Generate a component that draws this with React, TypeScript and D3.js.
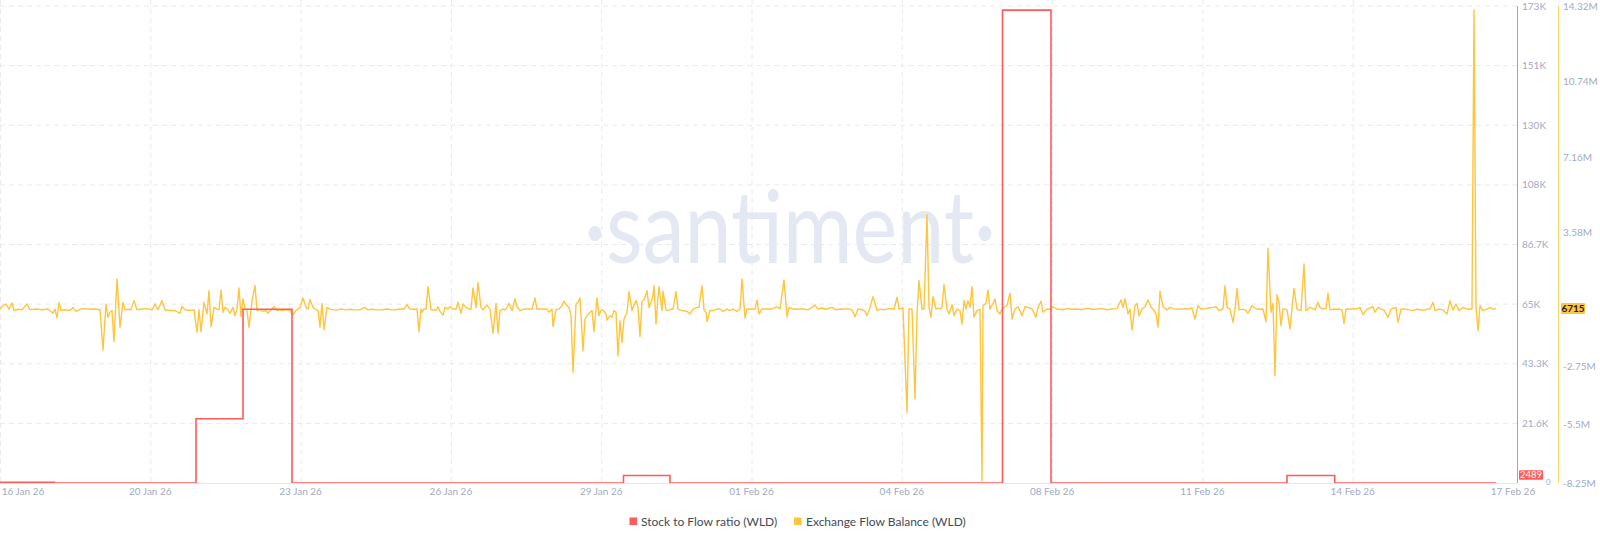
import React from "react";
import * as d3 from "d3";

// ---------- data ----------
// time in hours since chart start
const xTickHours = [0, 75.15, 150.3, 225.45, 300.6, 375.75, 450.9, 526.05, 601.2, 676.35, 756.5];
const xTickLabels = ["16 Jan 26", "20 Jan 26", "23 Jan 26", "26 Jan 26", "29 Jan 26", "01 Feb 26", "04 Feb 26", "08 Feb 26", "11 Feb 26", "14 Feb 26", "17 Feb 26"];

const redTickValues = [0, 21625, 43250, 64875, 86500, 108125, 129750, 151375, 173000];
const redTickLabels = ["0", "21.6K", "43.3K", "65K", "86.7K", "108K", "130K", "151K", "173K"];

const yellowTickValues = [-8.25, -5.5, -2.75, 3.58, 7.16, 10.74, 14.32];
const yellowTickLabels = ["-8.25M", "-5.5M", "-2.75M", "3.58M", "7.16M", "10.74M", "14.32M"];

const seriesNames = ["Stock to Flow ratio (WLD)", "Exchange Flow Balance (WLD)"];
const lastStockToFlow = 2489;
const lastFlowBalance = 6715;

// Stock to Flow ratio (daily steps) [hour, value]
const stockToFlow: [number, number][] = [
  [0, 250], [27.3, 0], [98, 23300], [121.5, 63000], [146, 0], [311.75, 2700], [335, 0],
  [501.25, 171500], [525.5, 0], [643.5, 2700], [667.35, 0], [748, 0],
];

// Exchange Flow Balance [hour, value in millions]
const flowBalance: [number, number][] = [
  [0,-0.02],[1.5,0.14],[3,0.22],[4.5,-0.02],[6,0.27],[7,-0.09],[9,-0.03],[11,-0.05],[13.5,0.22],[15,-0.06],[18,-0.02],[21,-0.05],[24,-0.02],[26.5,-0.22],[27.5,-0.02],[28.5,-0.44],[29.5,0.3],[30.5,-0.09],[32.5,-0.05],[35,-0.09],[36.5,0.06],[38,-0.13],[40,-0.03],[42.5,0],[45,-0.03],[47.5,-0.02],[50,-0.05],[51.5,-1.96],[53,0.22],[54,-0.41],[55,-0.17],[56,-0.09],[57,-1.56],[58.5,1.41],[60,-0.88],[61.5,0.3],[62.5,-0.06],[64,-0.03],[65.5,-0.05],[67,0.38],[68.5,-0.05],[71,-0.02],[73.5,0],[76,-0.06],[77.5,0.22],[79,-0.05],[81,0.38],[82.5,-0.05],[85,-0.09],[87.5,-0.09],[89,-0.17],[90,-0.22],[91,0.1],[92.5,-0.05],[95,-0.09],[97,-0.06],[98.5,-1.12],[99.5,-0.05],[100.5,-1.09],[102,0.3],[103.5,-0.25],[104.5,0.85],[105.5,-0.85],[107,0.06],[108.5,-0.02],[109.5,-0.05],[110.5,0.88],[111.5,-0.17],[112.5,0.06],[114,-0.06],[115,-0.22],[116.5,0.06],[117.5,-0.33],[118.5,-0.02],[119.5,0.98],[120.5,-0.38],[121.5,0.46],[122.5,-0.02],[123.5,-0.09],[124.5,-0.88],[126,0.38],[127.5,1.09],[128.5,-0.09],[130,-0.05],[131.5,-0.13],[133,-0.09],[134,-0.22],[135.5,-0.06],[137,0.1],[138.5,-0.09],[140,-0.06],[141.5,-0.09],[143,-0.05],[145,-0.09],[146.5,-0.28],[148,-0.09],[150,0.06],[151.5,0.51],[153,0.06],[154,-0.02],[155,0.43],[156.5,0.06],[157.5,-0.02],[159,-0.09],[160,-0.88],[161,0.25],[162,-1.0],[163.5,0.06],[165,-0.02],[167,-0.06],[169,-0.05],[171,-0.02],[173,-0.06],[175,-0.03],[177.5,-0.06],[180,-0.05],[182.5,0.06],[184,-0.06],[186,-0.03],[188.5,-0.06],[191,-0.05],[193.5,-0.02],[196,-0.06],[198,-0.05],[200,-0.02],
  [202,-0.02],[203.5,0.19],[205,-0.02],[207,-0.03],[208.5,-0.02],[209.5,-1.09],[210.5,-0.02],[211,-0.17],[212,-0.02],[213,-0.02],[214,1.04],[215.5,-0.05],[216.5,-0.05],[218,-0.09],[219,0.09],[220,-0.13],[221.5,-0.3],[222.5,0.06],[224,-0.02],[225,0.09],[226.5,-0.02],[228,-0.02],[229,0.3],[230.5,-0.22],[231.5,0.22],[233,0.06],[234.5,-0.02],[235.5,-0.02],[236.5,0.98],[238,0.06],[239,1.23],[240.5,0.06],[241.5,-0.05],[243.5,0.17],[245,-0.02],[246.5,-1.17],[248,0.25],[249,-1.17],[250,-0.09],[251.5,-0.02],[252.5,-0.06],[253.5,0.06],[254.5,0.25],[256,-0.09],[257.5,0.46],[258.5,0.09],[260,-0.09],[262,-0.02],[264,-0.02],[266,-0.02],[267.5,0.51],[268.5,-0.02],[270.5,-0.02],[272,-0.02],[273.5,-0.02],[274.5,-0.17],[276,-0.02],[276.5,-0.85],[278,-0.05],[279.5,-0.02],[281,0.14],[282,0.35],[283.5,0.14],[284.5,0.06],[285.5,-0.33],[286.5,-3.02],[288,0.22],[289,0.3],[290,0.51],[291.5,-1.99],[292.5,-0.49],[293.5,-0.33],[294.5,-0.22],[296,-0.09],[297,-1.09],[298.5,0.51],[299.5,-0.33],[300.5,-0.09],[301.5,-0.06],[303,-0.25],[303.5,-0.54],[305,-0.33],[306,-0.41],[307,-0.09],[308,-0.17],[309,-2.23],[310,-0.57],[311,-1.6],[312,-0.49],[313.5,-0.17],[314.5,0.81],[316,-0.09],[316.5,0.06],[318,0.38],[319,0.06],[320,-1.33],[321,0.35],[322,0.41],[323.5,0.85],[324.5,0.06],[325.5,0.3],[326.5,0.62],[327,1.09],[328,-0.73],[329,0.57],[329.5,1.04],[331,-0.09],[331.5,0.82],[333,-0.06],[334,-0.09],[335.5,-0.02],[336.5,-0.02],[338,0.81],[339,-0.02],[341,-0.09],[343.5,-0.13],[345,-0.25],[346.5,-0.02],[348.5,0.06],[349.5,0.06],[351,1.09],[352,-0.06],[353,-0.17],[353.5,-0.62],[355,-0.09],[356.5,-0.09],[358.5,-0.02],[360,-0.02],[361.5,-0.13],[363.5,-0.02],[365,-0.09],[366.5,-0.02],[368.5,-0.13],[370,-0.02],[371,1.41],[372.5,-0.44],[373.5,-0.02],[376,-0.02],[377.5,-0.02],[378.5,0.41],[379.5,-0.25],[381,-0.02],[383.5,-0.02],[386,-0.02],[388.5,0.09],[390,-0.02],[392,1.36],[393.5,-0.38],[394.5,0.06],[396.5,-0.02],[398.5,-0.03],[400,-0.02],
  [401.5,-0.02],[404,-0.06],[406,0.06],[407.5,0.17],[409,-0.02],[411,0.03],[413,-0.03],[414.5,0.02],[416,0.06],[418,-0.06],[420,-0.02],[422,-0.03],[424,0],[426,-0.06],[427.5,-0.38],[429,-0.02],[431,-0.05],[432.5,-0.13],[433.5,-0.33],[435,0.06],[436.5,0.57],[438.5,-0.09],[440,-0.02],[442,-0.06],[443.5,-0.02],[445,0],[447,-0.03],[448.5,0.54],[449.5,-0.02],[451.5,0.03],[453.5,-4.91],[454.5,-0.02],[456,-0.02],[457.5,-4.28],[458.5,-0.25],[459.5,1.33],[461,-0.02],[462,-0.02],[463.5,4.44],[464.5,0.06],[465.5,-0.41],[466.5,0.57],[468,-0.02],[469,0.02],[470,-0.02],[471,0.06],[472,1.14],[473.5,-0.02],[474.5,-0.25],[476,0.19],[477,-0.33],[478.5,-0.02],[480,-0.09],[481,-0.73],[482,0.38],[483,-0.02],[484,0.38],[485,0.06],[486,1.04],[487,-0.41],[488.5,-0.09],[490,-0.02],[491,-8.16],[491.5,0.14],[493,0.25],[494,0.88],[495,-0.02],[496,0.14],[497.5,0.46],[498.5,-0.09],[500,-0.25],[501,-0.02],[502.5,0.09],[503.5,0.14],[505,0.73],[506,-0.49],[507.5,-0.02],[509,0.09],[511,-0.33],[512.5,0.09],[514,0.06],[516,-0.02],[518,-0.41],[519,0.06],[520.5,0.35],[521.5,-0.17],[523.5,-0.02],[525,-0.03],[526.5,0.09],[528.5,-0.02],[531,-0.05],[533.5,0],[536,-0.03],[538.5,-0.02],[541,-0.05],[543.5,0.02],[546,-0.03],[548.5,-0.02],[551,0],[553.5,-0.05],[556,-0.02],[558.5,0],[560.5,0.41],[561.5,0.06],[562.5,0.46],[564,-0.25],[565,-0.02],[566,-1.01],[567.5,0.14],[568.5,0.25],[569.5,-0.33],[571,-0.02],[572.5,0.09],[574,0.41],[575.5,0.06],[576.5,-0.02],[578,-0.25],[579,-0.88],[580,0.82],[581.5,0.09],[583.5,-0.06],
  [585,0.06],[586.5,0],[588.5,-0.02],[590.5,-0.03],[592.5,0],[594.5,-0.02],[596,0.03],[597.5,-0.49],[599,0.14],[600.5,-0.02],[602.5,0],[604.5,0.03],[606.5,0.06],[608,0.09],[609.5,-0.09],[611.5,-0.02],[612.5,1.09],[613.5,0.06],[615,-0.02],[616.5,-0.65],[617.5,-0.02],[618.5,0.96],[619.5,-0.06],[621.5,-0.02],[623,-0.09],[624,-0.22],[626,0.14],[627.5,0.03],[628.5,-0.02],[630,-0.03],[631.5,-0.02],[633,-0.62],[634,2.86],[635.5,-0.17],[636.5,0.25],[637.5,-3.18],[638.5,0.66],[639.5,0.3],[640.5,-0.81],[641.5,-0.02],[642.5,-0.02],[643.5,-0.06],[645,-0.96],[647,0.96],[648.5,-0.02],[649.5,-0.06],[650.5,-0.09],[652,2.12],[653,-0.09],[654,-0.03],[655,0.06],[656.5,0],[657.5,-0.06],[659,0.3],[660,0.06],[661.5,-0.02],[663,0],[664,0.73],[665,-0.06],[666.5,-0.02],[668,-0.03],[669.5,-0.02],[671,-0.06],[672,-0.7],[673,-0.02],[675,-0.03],[677,0],[678.5,-0.02],[680,0.06],[681.5,-0.28],[683.5,-0.02],[685,0.03],[686.5,0.09],[687.5,-0.17],[689,0.06],[690.5,-0.02],[692,-0.06],[694,-0.41],[695.5,-0.02],[697,0.03],[698,0.06],[699,-0.65],[700.5,-0.02],[702.5,-0.02],[704.5,-0.06],[706.5,-0.09],[708.5,-0.02],[710,-0.05],[711.5,-0.09],[713.5,-0.03],[715,-0.02],[716.5,0.3],[717.5,-0.09],[719.5,-0.02],[721.5,-0.06],[723.5,-0.25],[725,0.38],[726.5,-0.06],[728,0.22],[729.5,-0.09],[731.5,0.06],[733.5,-0.02],[735,-0.02],[736,-0.02],[737,14.13],[738,0.1],[739,-1.04],[740,0.14],[741.5,-0.09],[743.5,-0.02],[745,0.06],[746.5,-0.02],[748,0.0067],
];

// ---------- styles ----------
const RED = "#ff5b5b";
const YELLOW = "#ffc53d";
const GRID = "#e8eaf2";
const AXIS_TEXT = "#a2aac3";
const FONT = "Lato, 'Open Sans', sans-serif";

export default function App() {
  const W = 1600, H = 542;
  const plotLeft = 0, plotRight = 1517, plotTop = 6, plotBottom = 483;
  const redAxisX = 1517, yellowAxisX = 1558;

  const x = d3.scaleLinear().domain([0, 758.5]).range([plotLeft, plotRight]);
  const yRed = d3.scaleLinear().domain([0, 173000]).range([plotBottom, plotTop]);
  const yYellow = d3.scaleLinear().domain([-8.25, 14.32]).range([plotBottom, plotTop]);

  const redLine = d3.line<[number, number]>()
    .x((d) => x(d[0]))
    .y((d) => yRed(d[1]))
    .curve(d3.curveStepAfter);
  const yellowLine = d3.line<[number, number]>()
    .x((d) => x(d[0]))
    .y((d) => yYellow(d[1]));

  const gridTicks = xTickHours.slice(0, xTickHours.length - 1);
  const redBadgeY = yRed(lastStockToFlow);
  const yellowBadgeY = yYellow(lastFlowBalance / 1e6);

  return (
    <svg
      width={W}
      height={H}
      style={{ position: "absolute", left: 0, top: 0, background: "#fff" }}
      fontFamily={FONT}
    >
      <defs>
        <clipPath id="plotClip">
          <rect x={plotLeft} y={0} width={plotRight - plotLeft} height={plotBottom} />
        </clipPath>
      </defs>

      {/* watermark */}
      <text
        x={790}
        y={263}
        textAnchor="middle"
        fontSize={100}
        fontWeight={400}
        fill="#e4e8f2"
        textLength={412}
        lengthAdjust="spacingAndGlyphs"
        fontFamily="Lato, sans-serif"
      >
        ·santiment·
      </text>

      {/* horizontal grid */}
      {redTickValues.slice(1).map((v, i) => (
        <line key={"hg" + i} x1={plotLeft} x2={plotRight} y1={yRed(v)} y2={yRed(v)} stroke={GRID} strokeDasharray="5,4" strokeWidth={1} />
      ))}
      {/* vertical grid */}
      {gridTicks.map((h, i) => (
        <line key={"vg" + i} x1={x(h) + 0.5} x2={x(h) + 0.5} y1={0} y2={plotBottom} stroke={GRID} strokeDasharray="5,4" strokeWidth={1} />
      ))}
      {/* x axis baseline */}
      <line x1={plotLeft} x2={plotRight} y1={plotBottom + 0.5} y2={plotBottom + 0.5} stroke="#e3e6ef" />

      {/* series */}
      <g clipPath="url(#plotClip)">
        <path d={yellowLine(flowBalance) || ""} fill="none" stroke={YELLOW} strokeWidth={1.4} strokeLinejoin="round" />
        <path d={redLine(stockToFlow) || ""} fill="none" stroke={RED} strokeWidth={1.6} />
      </g>

      {/* x tick labels */}
      {xTickHours.map((h, i) => (
        <text key={"xt" + i} x={Math.max(x(h), 23)} y={495} textAnchor="middle" fontSize={10} fill={AXIS_TEXT}>
          {xTickLabels[i]}
        </text>
      ))}

      {/* red axis */}
      <line x1={redAxisX + 0.5} x2={redAxisX + 0.5} y1={plotTop} y2={plotBottom} stroke="#ff7d7d" strokeWidth={1} />
      {redTickValues.map((v, i) => (
        <text
          key={"rt" + i}
          x={i === 0 ? redAxisX + 29 : redAxisX + 5}
          y={i === 0 ? yRed(v) + 2 : yRed(v) + 3.5}
          fontSize={i === 0 ? 8 : 10}
          fill={AXIS_TEXT}
        >
          {redTickLabels[i]}
        </text>
      ))}
      <rect x={redAxisX + 2} y={redBadgeY - 6} width={24} height={9.5} fill={RED} rx={1} />
      <text x={redAxisX + 14} y={redBadgeY + 2} textAnchor="middle" fontSize={9.5} fill="#fff">
        {String(lastStockToFlow)}
      </text>

      {/* yellow axis */}
      <line x1={yellowAxisX + 0.5} x2={yellowAxisX + 0.5} y1={plotTop} y2={plotBottom} stroke="#ffd466" strokeWidth={1} />
      {yellowTickValues.map((v, i) => (
        <text key={"yt" + i} x={yellowAxisX + 5} y={yYellow(v) + 3.5} fontSize={10} fill={AXIS_TEXT}>
          {yellowTickLabels[i]}
        </text>
      ))}
      <rect x={yellowAxisX + 3} y={yellowBadgeY - 5.5} width={24} height={11} fill={YELLOW} rx={1} />
      <text x={yellowAxisX + 15} y={yellowBadgeY + 3.5} textAnchor="middle" fontSize={10} fontWeight={700} fill="#1d1d1d">
        {String(lastFlowBalance)}
      </text>

      {/* legend */}
      <g fontSize={12} fill="#454a55">
        <rect x={629.5} y={517.5} width={7.5} height={7.5} fill={RED} />
        <text x={641} y={526}>{seriesNames[0]}</text>
        <rect x={794} y={517.5} width={7.5} height={7.5} fill={YELLOW} />
        <text x={806} y={526}>{seriesNames[1]}</text>
      </g>
    </svg>
  );
}
